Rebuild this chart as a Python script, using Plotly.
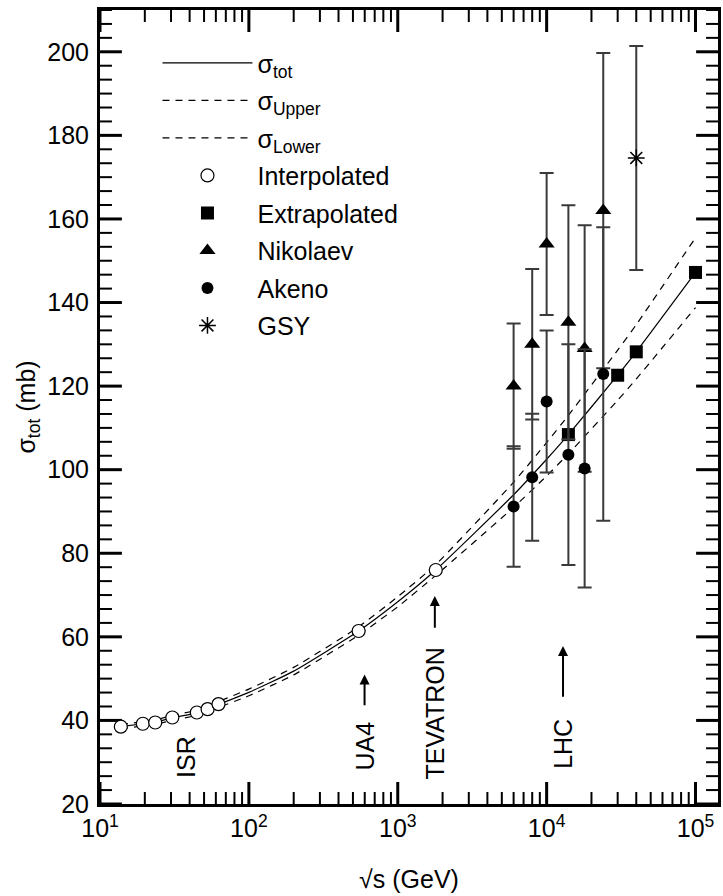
import math
import plotly.graph_objects as go

# ---------------- data ----------------
curve_x = [13.8, 19.4, 23.5, 30.6, 44.7, 52.8, 62.5, 100, 200, 546, 1000, 1800,
           6000, 10000, 14000, 30000, 40000, 100000]
sigma_tot = [38.5, 39.2, 39.6, 40.6, 41.8, 42.6, 43.8, 46.7, 51.8, 61.4, 68.4, 76.0,
             94.0, 102.5, 108.4, 122.6, 128.2, 147.2]
sigma_upper = [39.0, 39.7, 40.1, 41.2, 42.4, 43.2, 44.5, 47.5, 52.7, 62.4, 69.6, 77.3,
               97.0, 106.5, 113.0, 128.6, 134.7, 155.5]
sigma_lower = [38.0, 38.7, 39.1, 40.0, 41.2, 42.0, 43.1, 45.9, 50.9, 60.4, 67.2, 74.7,
               91.0, 98.5, 103.8, 116.6, 121.7, 138.8]

interp_x = [13.8, 19.4, 23.5, 30.6, 44.7, 52.8, 62.5, 546, 1800]
interp_y = [38.5, 39.2, 39.5, 40.7, 41.9, 42.7, 43.9, 61.4, 76.0]

extrap_x = [14000, 30000, 40000, 100000]
extrap_y = [108.4, 122.6, 128.2, 147.2]

cr_x = [6000, 8000, 10000, 14000, 18000, 24000]
nikolaev_y = [120.0, 130.0, 154.0, 135.3, 129.0, 162.0]
nikolaev_err = [15.0, 18.0, 17.0, 28.0, 29.5, 37.7]
akeno_y = [91.2, 98.2, 116.3, 103.6, 100.3, 122.9]
akeno_err = [14.4, 15.2, 17.0, 26.4, 28.5, 35.1]

gsy_x = [40000]
gsy_y = [174.6]
gsy_err = [26.8]

x_tick_vals = [10, 100, 1000, 10000, 100000]
x_tick_text = ["10<sup>1</sup>", "10<sup>2</sup>", "10<sup>3</sup>", "10<sup>4</sup>", "10<sup>5</sup>"]
y_tick_vals = [20, 40, 60, 80, 100, 120, 140, 160, 180, 200]
x_minor_vals = [m * d for d in (10, 100, 1000, 10000) for m in range(2, 10)]
y_minor_vals = [round(20 + k * 10 / 3, 4) for k in range(58) if k % 6 != 0]

# labels: (text, log10 x, y centre)
machine_labels = [("ISR", 1.579, 31.3), ("UA4", 2.777, 33.9),
                  ("TEVATRON", 3.249, 41.6), ("LHC", 4.110, 34.4)]
# arrows: (log10 x, tail y, tip y)
machine_arrows = [(2.777, 43.3, 51.0), (3.249, 61.8, 69.8), (4.110, 45.3, 57.8)]

FONT = "Liberation Sans, Arial, Helvetica, sans-serif"
BAR = "#3a3a3a"
X_RANGE = [1, 5.151]
Y_RANGE = [20, 210]
W, H = 723, 896
MARGIN = dict(l=100, r=2, t=10, b=92)
PLOT_W = W - MARGIN["l"] - MARGIN["r"]
PLOT_H = H - MARGIN["t"] - MARGIN["b"]
PX_PER_DECADE = PLOT_W / (X_RANGE[1] - X_RANGE[0])
PX_PER_MB = PLOT_H / (Y_RANGE[1] - Y_RANGE[0])

fig = go.Figure()


# ---- inside frame tick marks on all four sides, built from the tick value lists ----
def y_tick_trace(vals, length_px, width):
    d = length_px / PX_PER_DECADE
    xs, ys = [], []
    for v in vals:
        xs += [10 ** X_RANGE[0], 10 ** (X_RANGE[0] + d), None,
               10 ** X_RANGE[1], 10 ** (X_RANGE[1] - d), None]
        ys += [v, v, None, v, v, None]
    return go.Scatter(x=xs, y=ys, mode="lines", showlegend=False, hoverinfo="skip",
                      line=dict(color="black", width=width))


def x_tick_trace(vals, length_px, width):
    d = length_px / PX_PER_MB
    xs, ys = [], []
    for v in vals:
        xs += [v, v, None, v, v, None]
        ys += [Y_RANGE[0], Y_RANGE[0] + d, None, Y_RANGE[1], Y_RANGE[1] - d, None]
    return go.Scatter(x=xs, y=ys, mode="lines", showlegend=False, hoverinfo="skip",
                      line=dict(color="black", width=width))


fig.add_trace(y_tick_trace(y_minor_vals, 12, 2))
fig.add_trace(y_tick_trace(y_tick_vals, 22, 3))
fig.add_trace(x_tick_trace(x_minor_vals, 12, 2))
fig.add_trace(x_tick_trace(x_tick_vals, 22, 3))

# ---- data ----
fig.add_trace(go.Scatter(x=curve_x, y=sigma_tot, mode="lines", name="σ<sub>tot</sub>",
                         legendgroup="a",
                         line=dict(color="black", width=1.2, shape="spline", smoothing=0.5)))
fig.add_trace(go.Scatter(x=curve_x, y=sigma_upper, mode="lines", name="σ<sub>Upper</sub>",
                         legendgroup="b",
                         line=dict(color="black", width=1.2, dash="7px,6px", shape="spline", smoothing=0.5)))
fig.add_trace(go.Scatter(x=curve_x, y=sigma_lower, mode="lines", name="σ<sub>Lower</sub>",
                         legendgroup="c",
                         line=dict(color="black", width=1.2, dash="7px,6px", shape="spline", smoothing=0.5)))
fig.add_trace(go.Scatter(x=interp_x, y=interp_y, mode="markers", name="Interpolated",
                         legendgroup="d",
                         marker=dict(symbol="circle", size=13, color="white",
                                     line=dict(color="black", width=1.2))))
fig.add_trace(go.Scatter(x=extrap_x, y=extrap_y, mode="markers", name="Extrapolated",
                         legendgroup="e",
                         marker=dict(symbol="square", size=13, color="black")))
fig.add_trace(go.Scatter(x=cr_x, y=nikolaev_y, mode="markers", name="Nikolaev",
                         legendgroup="f",
                         error_y=dict(type="data", array=nikolaev_err, visible=True,
                                      color=BAR, thickness=2, width=7),
                         marker=dict(symbol="triangle-up", size=14, color="black")))
fig.add_trace(go.Scatter(x=cr_x, y=akeno_y, mode="markers", name="Akeno",
                         legendgroup="g",
                         error_y=dict(type="data", array=akeno_err, visible=True,
                                      color=BAR, thickness=2, width=7),
                         marker=dict(symbol="circle", size=12, color="black")))
fig.add_trace(go.Scatter(x=gsy_x, y=gsy_y, mode="markers", name="GSY",
                         legendgroup="h",
                         error_y=dict(type="data", array=gsy_err, visible=True,
                                      color=BAR, thickness=2, width=7),
                         marker=dict(symbol="asterisk-open", size=14, color="black",
                                     line=dict(color="black", width=1.5))))

annotations = []
for text, lx, ly in machine_labels:
    annotations.append(dict(x=lx, y=ly, xref="x", yref="y", text=text, showarrow=False,
                            textangle=-90, xanchor="center", yanchor="middle",
                            font=dict(size=25, color="black", family=FONT)))
for lx, y0, y1 in machine_arrows:
    annotations.append(dict(x=lx, y=y1, ax=lx, ay=y0, xref="x", yref="y", axref="x", ayref="y",
                            text="", showarrow=True, arrowhead=2, arrowsize=1.0,
                            arrowwidth=2, arrowcolor="black"))

fig.update_layout(
    width=W, height=H,
    margin=MARGIN,
    paper_bgcolor="white", plot_bgcolor="white",
    font=dict(family=FONT, size=25, color="black"),
    showlegend=True,
    legend=dict(x=0.093, y=0.962, xanchor="left", yanchor="top",
                bgcolor="rgba(0,0,0,0)", borderwidth=0, itemwidth=90,
                tracegroupgap=2, font=dict(size=25, family=FONT)),
    annotations=annotations,
    xaxis=dict(
        type="log", range=X_RANGE, tickmode="array",
        tickvals=x_tick_vals, ticktext=x_tick_text, ticks="",
        showline=True, linewidth=3, linecolor="black", mirror=True,
        showgrid=False, zeroline=False,
        title=dict(text="√s (GeV)", font=dict(size=25, family=FONT), standoff=30),
        tickfont=dict(size=25, family=FONT),
    ),
    yaxis=dict(
        range=Y_RANGE, tickmode="array", tickvals=y_tick_vals, ticks="",
        showline=True, linewidth=3, linecolor="black", mirror=True,
        showgrid=False, zeroline=False,
        title=dict(text="σ<sub>tot</sub> (mb)", font=dict(size=25, family=FONT), standoff=5),
        tickfont=dict(size=25, family=FONT),
        ticklabelstandoff=3,
    ),
)

fig.write_html("out.html")
